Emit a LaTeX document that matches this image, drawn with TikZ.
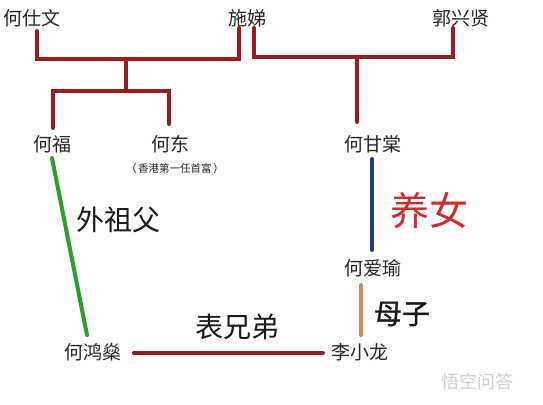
\documentclass[tikz,border=0pt]{standalone}
\usepackage{fontspec}
\setmainfont{Noto Sans CJK SC}
\newfontfamily\fakeboldcjk[FakeBold=1.2]{Noto Sans CJK SC}
\definecolor{treered}{HTML}{9B1B1E}
\definecolor{lineblue}{HTML}{1F3C80}
\definecolor{linegreen}{HTML}{2AA02A}
\definecolor{lineorange}{HTML}{D4896A}
\definecolor{labelred}{HTML}{D42A2A}
\begin{document}
\begin{tikzpicture}[x=1pt,y=-1pt,
  person/.style={font=\fontsize{19}{19}\selectfont, inner sep=0pt, text=black!85},
  rel/.style={font=\fontsize{28}{28}\selectfont, inner sep=0pt, text=black!90},
  tree/.style={draw=treered, line width=4pt, line cap=round, line join=miter},
  link/.style={line width=4pt, line cap=round}]
\useasboundingbox[fill=white] (0,0) rectangle (543,404);
% people
\node[person] (a) at (32,18) {何仕文};
\node[person] (b) at (247,18) {施娣};
\node[person] (c) at (461,18) {郭兴贤};
\node[person] (fu) at (52,144) {何福};
\node[person] (dong) at (170,144) {何东};
\node[font=\fontsize{10.5}{10.5}\selectfont, inner sep=0pt, text=black!85] (note) at (175,169) {（\,香港第一任首富\,）};
\node[person] (gan) at (373,144) {何甘棠};
\node[person] (ai) at (373,268) {何爱瑜};
\node[person] (hong) at (93,352) {何鸿燊};
\node[person] (li) at (360,352) {李小龙};
% tree junctions
\coordinate (a1) at (37,31);
\coordinate (a2) at (37,59);
\coordinate (b2) at (239,59);
\coordinate (b1) at (239,28);
\coordinate (m1) at (126,59);
\coordinate (m2) at (126,89);
\coordinate (f2) at (53,91);
\coordinate (f1) at (53,128);
\coordinate (d2) at (169,91);
\coordinate (d1) at (169,124);
\coordinate (b3) at (254,28);
\coordinate (b4) at (254,57);
\coordinate (c2) at (453,57);
\coordinate (c1) at (453,28);
\coordinate (n1) at (357,57);
\coordinate (n2) at (357,122);
\draw[tree] (a1) -- (a2) -- (b2) -- (b1);
\draw[tree] (m1) -- (m2);
\draw[tree] (f1) -- (f2) -- (d2) -- (d1);
\draw[tree] (b3) -- (b4) -- (c2) -- (c1);
\draw[tree] (n1) -- (n2);
% relations
\coordinate (g1) at (52,158);
\coordinate (g2) at (87,335);
\draw[link, draw=linegreen] (g1) -- (g2);
\coordinate (bl1) at (372,159);
\coordinate (bl2) at (372,250);
\draw[link, draw=lineblue] (bl1) -- (bl2);
\coordinate (o1) at (361,285);
\coordinate (o2) at (361,335);
\draw[link, draw=lineorange] (o1) -- (o2);
\coordinate (h1) at (134,353);
\coordinate (h2) at (323,353);
\draw[link, draw=treered] (h1) -- (h2);
% labels
\node[rel] (wzf) at (118,220) {外祖父};
\node[font=\fontsize{39}{39}\selectfont, inner sep=0pt, text=labelred] (yn) at (429,211) {养女};
\node[rel, font=\fakeboldcjk\fontsize{28}{28}\selectfont] (mz) at (402,314) {母子};
\node[rel] (bxd) at (237,327) {表兄弟};
% watermark
\node[font=\fontsize{18}{18}\selectfont, inner sep=0pt, text=black!18] (wm) at (477,382) {悟空问答};
\end{tikzpicture}
\end{document}
